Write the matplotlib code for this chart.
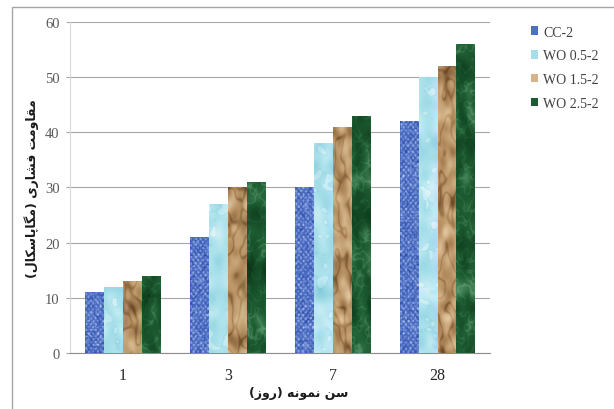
import numpy as np
import matplotlib
matplotlib.use("Agg")
import matplotlib.pyplot as plt
from matplotlib.colors import LinearSegmentedColormap
from matplotlib.patches import Patch, Rectangle

# Compressive strength (MPa) by specimen age
ages = ["1", "3", "7", "28"]
series = ["CC-2", "WO 0.5-2", "WO 1.5-2", "WO 2.5-2"]
cc_2 = [11, 21, 30, 42]
wo_05 = [12, 27, 38, 50]
wo_15 = [13, 30, 41, 52]
wo_25 = [14, 31, 43, 56]
values = [cc_2, wo_05, wo_15, wo_25]

y_label = "مقاومت فشاری (مگاپاسکال)"
x_label = "سن نمونه (روز)"

# Arabic-script letters: (isolated, final, initial, medial); None = joins only to the right
FORMS = {
    "ا": ("\uFE8D", "\uFE8E", None, None),
    "ت": ("\uFE95", "\uFE96", "\uFE97", "\uFE98"),
    "ر": ("\uFEAD", "\uFEAE", None, None),
    "ز": ("\uFEAF", "\uFEB0", None, None),
    "س": ("\uFEB1", "\uFEB2", "\uFEB3", "\uFEB4"),
    "ش": ("\uFEB5", "\uFEB6", "\uFEB7", "\uFEB8"),
    "ف": ("\uFED1", "\uFED2", "\uFED3", "\uFED4"),
    "ق": ("\uFED5", "\uFED6", "\uFED7", "\uFED8"),
    "ل": ("\uFEDD", "\uFEDE", "\uFEDF", "\uFEE0"),
    "م": ("\uFEE1", "\uFEE2", "\uFEE3", "\uFEE4"),
    "ن": ("\uFEE5", "\uFEE6", "\uFEE7", "\uFEE8"),
    "ه": ("\uFEE9", "\uFEEA", "\uFEEB", "\uFEEC"),
    "و": ("\uFEED", "\uFEEE", None, None),
    "پ": ("\uFB56", "\uFB57", "\uFB58", "\uFB59"),
    "ک": ("\uFB8E", "\uFB8F", "\uFB90", "\uFB91"),
    "گ": ("\uFB92", "\uFB93", "\uFB94", "\uFB95"),
    "ی": ("\uFBFC", "\uFBFD", "\uFBFE", "\uFBFF"),
}


def farsi(text):
    out = []
    for i, ch in enumerate(text):
        if ch not in FORMS:
            out.append(ch)
            continue
        prev = text[i - 1] if i > 0 else ""
        nxt = text[i + 1] if i + 1 < len(text) else ""
        join_prev = prev in FORMS and FORMS[prev][2] is not None
        join_next = FORMS[ch][2] is not None and nxt in FORMS
        iso, fin, ini, med = FORMS[ch]
        if join_prev and join_next:
            out.append(med)
        elif join_prev:
            out.append(fin)
        elif join_next:
            out.append(ini)
        else:
            out.append(iso)
    s = "".join(reversed(out))
    return s.translate(str.maketrans("()", ")("))


# --- bar textures ---
rng = np.random.default_rng(7)
TEX_H, TEX_W = 660, 40


def smooth(sy, sx):
    n = rng.standard_normal((TEX_H, TEX_W))
    fy = np.fft.fftfreq(TEX_H)[:, None]
    fx = np.fft.fftfreq(TEX_W)[None, :]
    g = np.exp(-2 * np.pi ** 2 * ((fy * sy) ** 2 + (fx * sx) ** 2))
    out = np.real(np.fft.ifft2(np.fft.fft2(n) * g))
    return (out - out.mean()) / out.std()


def weave():
    i, j = np.mgrid[0:TEX_H, 0:TEX_W]
    check = ((i // 6) + (j // 5)) % 2
    lines = (i % 6 == 0) | (j % 5 == 0)
    v = 0.42 + 0.25 * check - 0.2 * lines + 0.12 * smooth(1, 1)
    return np.clip(v, 0, 1)


def droplets():
    base = smooth(10, 8)
    spots = smooth(5, 5)
    v = 0.5 + 0.1 * base + 0.18 * (spots > 1.4) - 0.12 * ((spots > 1.0) & (spots < 1.4))
    return np.clip(v, 0, 1)


def paper():
    crease = smooth(12, 6)
    shade = smooth(9, 6)
    v = 0.62 + 0.14 * shade - 0.32 * np.exp(-(crease / 0.3) ** 2)
    return np.clip(v, 0, 1)


def marble():
    vein = smooth(5, 4)
    v = 0.42 + 0.12 * smooth(12, 8) + 0.22 * np.exp(-(vein / 0.25) ** 2)
    return np.clip(v, 0, 1)


textures = [weave, droplets, paper, marble]
cmaps = [
    LinearSegmentedColormap.from_list("weave", ["#233f9a", "#5577cc", "#c5d3f0"]),
    LinearSegmentedColormap.from_list("drops", ["#7cc6d6", "#ace2ec", "#eefafc"]),
    LinearSegmentedColormap.from_list("paper", ["#6e4a28", "#b38c5e", "#e0c49c"]),
    LinearSegmentedColormap.from_list("marble", ["#0b3519", "#1e5e33", "#6aa67c"]),
]
legend_colors = ["#4d6fc6", "#a6dfea", "#d6b48a", "#1d5a31"]

fig = plt.figure(figsize=(6.14, 4.10), dpi=100)
ax = fig.add_axes([0.1148, 0.1359, 0.6832, 0.8087])

x = np.arange(len(ages))
width = 0.18
for k, (name, vals) in enumerate(zip(series, values)):
    bars = ax.bar(x + (k - 1.5) * width, vals, width, color=legend_colors[k],
                  edgecolor="none", zorder=2)
    for bar in bars:
        x0 = bar.get_x()
        im = ax.imshow(textures[k](), cmap=cmaps[k], vmin=0, vmax=1,
                       extent=(x0, x0 + bar.get_width(), 0, 60), origin="lower",
                       aspect="auto", interpolation="bilinear", zorder=3)
        im.set_clip_path(bar)

ax.set_xlim(-0.5, 3.5)
ax.set_ylim(0, 60)
ax.set_yticks(range(0, 61, 10))
ax.set_xticks(x)
ax.set_xticklabels(ages)

ax.yaxis.grid(True, color="#a6a6a6", linewidth=0.8)
ax.set_axisbelow(True)
for side in ["top", "right"]:
    ax.spines[side].set_visible(False)
ax.spines["left"].set_color("#d9d9d9")
ax.spines["bottom"].set_color("#8c8c8c")
ax.tick_params(axis="y", length=3, color="#a6a6a6", pad=5, labelsize=10.5,
               labelcolor="#595959")
ax.tick_params(axis="x", length=0, pad=10, labelsize=11.5, labelcolor="#262626")
for lbl in ax.get_xticklabels() + ax.get_yticklabels():
    lbl.set_family("Liberation Serif")

ax.set_ylabel(farsi(y_label), family="DejaVu Sans", fontweight="bold",
              fontsize=9, color="#1a1a1a", labelpad=4)
fig.text(299 / 614, 1 - 394 / 410, farsi(x_label), family="DejaVu Sans",
         fontweight="bold", fontsize=9, color="#1a1a1a", ha="center", va="center")

handles = [Patch(facecolor=c, edgecolor="none") for c in legend_colors]
ax.legend(handles, series, loc="upper left", bbox_to_anchor=(518 / 614, 1 - 14 / 410),
          bbox_transform=fig.transFigure, frameon=False, handlelength=0.55,
          handleheight=0.55, handletextpad=0.35, labelspacing=0.78,
          prop={"family": "Liberation Serif", "size": 10}, labelcolor="#404040")

# outer chart frame
fig.add_artist(Rectangle((12 / 614, -0.05), 1.0, 0.05 + 1 - 8 / 410,
                         transform=fig.transFigure, fill=False,
                         edgecolor="#a6a6a6", linewidth=1))

fig.savefig("out.png", dpi=100)
